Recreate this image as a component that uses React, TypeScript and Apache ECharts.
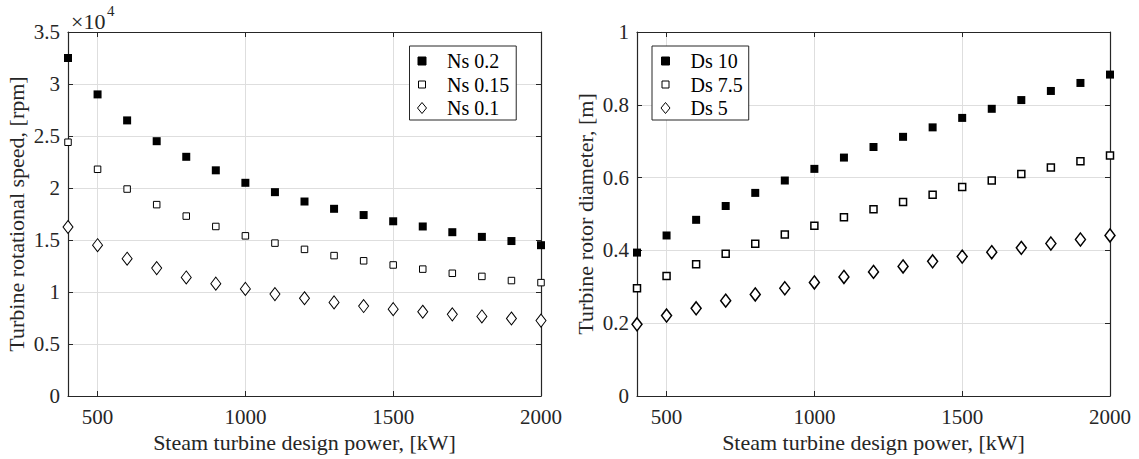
import React, { useEffect, useRef } from "react";
import * as echarts from "echarts";

const powerKW = [400, 500, 600, 700, 800, 900, 1000, 1100, 1200, 1300, 1400, 1500, 1600, 1700, 1800, 1900, 2000];
const xTicks = [500, 1000, 1500, 2000];

const ns02 = [32500, 29000, 26500, 24500, 23000, 21700, 20500, 19600, 18700, 18000, 17400, 16800, 16300, 15750, 15300, 14900, 14500];
const ns015 = [24400, 21800, 19900, 18400, 17300, 16300, 15400, 14700, 14100, 13500, 13000, 12600, 12200, 11800, 11500, 11100, 10900];
const ns01 = [16250, 14500, 13200, 12300, 11400, 10800, 10300, 9800, 9400, 9000, 8650, 8350, 8100, 7850, 7650, 7450, 7250];

const ds10 = [0.394, 0.441, 0.484, 0.522, 0.558, 0.592, 0.624, 0.655, 0.684, 0.712, 0.738, 0.764, 0.789, 0.813, 0.838, 0.86, 0.883];
const ds75 = [0.296, 0.33, 0.362, 0.391, 0.418, 0.444, 0.468, 0.491, 0.513, 0.533, 0.553, 0.574, 0.592, 0.61, 0.628, 0.645, 0.661];
const ds5 = [0.197, 0.221, 0.241, 0.262, 0.279, 0.296, 0.312, 0.327, 0.341, 0.356, 0.37, 0.383, 0.395, 0.407, 0.419, 0.43, 0.441];

const leftNames = ["Ns 0.2", "Ns 0.15", "Ns 0.1"];
const rightNames = ["Ds 10", "Ds 7.5", "Ds 5"];

const FONT = "'Liberation Serif', 'Times New Roman', serif";
const AX = "#262626";
const GRIDC = "#dedede";
const TICK_FS = 21;
const TITLE_FS = 22;

const ICON_FILLED = "path://M0,0M12,12M2,2L10,2L10,10L2,10Z";
const ICON_OPEN = "path://M0,0M12,12M2.5,2.5L9.5,2.5L9.5,9.5L2.5,9.5Z";
const ICON_DIAMOND = "path://M0,0M12,12M6,0.5L10.5,6L6,11.5L1.5,6Z";

function pairs(ys: number[]) {
  return powerKW.map((x, i) => [x, ys[i]]);
}

export default function App() {
  const ref = useRef<HTMLDivElement>(null);

  useEffect(() => {
    if (!ref.current) return;
    const chart = echarts.init(ref.current, null, { renderer: "svg" });

    const xBase = (gridIndex: number, pos: "bottom" | "top") => ({
      type: "value",
      gridIndex,
      position: pos,
      min: 400,
      max: 2000,
      name: pos === "bottom" ? "Steam turbine design power, [kW]" : "",
      nameLocation: "middle",
      nameGap: 34,
      nameTextStyle: { fontFamily: FONT, fontSize: TITLE_FS, color: AX },
      axisLine: { show: true, onZero: false, lineStyle: { color: AX, width: 1.2 } },
      axisTick: { show: true, inside: true, length: 5, customValues: xTicks, lineStyle: { color: AX, width: 1 } },
      axisLabel: {
        show: pos === "bottom",
        customValues: xTicks,
        margin: 10,
        fontFamily: FONT,
        fontSize: TICK_FS,
        color: AX,
        formatter: (v: number) => String(v),
      },
      splitLine: { show: pos === "bottom", lineStyle: { color: GRIDC, width: 1 } },
    });

    const yBase = (gridIndex: number, pos: "left" | "right", max: number, interval: number, name: string, fmt?: (v: number) => string) => ({
      type: "value",
      gridIndex,
      position: pos,
      min: 0,
      max,
      interval,
      name: pos === "left" ? name : "",
      nameLocation: "middle",
      nameGap: 41,
      nameTextStyle: { fontFamily: FONT, fontSize: TITLE_FS, color: AX },
      axisLine: { show: true, onZero: false, lineStyle: { color: AX, width: 1.2 } },
      axisTick: { show: true, inside: true, length: 5, lineStyle: { color: AX, width: 1 } },
      axisLabel: {
        show: pos === "left",
        margin: 8,
        fontFamily: FONT,
        fontSize: TICK_FS,
        color: AX,
        formatter: fmt,
      },
      splitLine: { show: pos === "left", lineStyle: { color: GRIDC, width: 1 } },
    });

    const legendBase = {
      orient: "vertical",
      top: 46,
      itemWidth: 40,
      itemHeight: 12,
      itemGap: 3.5,
      symbolKeepAspect: true,
      backgroundColor: "#ffffff",
      borderColor: AX,
      borderWidth: 1,
      borderRadius: 0,
      textStyle: { fontFamily: FONT, fontSize: 20, color: "#000" },
      itemStyle: { borderWidth: 1 },
      z: 10,
    };

    const option: any = {
      animation: false,
      backgroundColor: "#ffffff",
      grid: [
        { left: 68, top: 32, width: 473, height: 364, containLabel: false },
        { left: 637, top: 32, width: 473, height: 364, containLabel: false },
      ],
      xAxis: [xBase(0, "bottom"), xBase(0, "top"), xBase(1, "bottom"), xBase(1, "top")],
      yAxis: [
        yBase(0, "left", 35000, 5000, "Turbine rotational speed, [rpm]", (v: number) => String(v / 10000)),
        yBase(0, "right", 35000, 5000, ""),
        yBase(1, "left", 1, 0.2, "Turbine rotor diameter, [m]"),
        yBase(1, "right", 1, 0.2, ""),
      ],
      legend: [
        {
          ...legendBase,
          left: 409.5,
          padding: [5, 7, 2, 6],
          data: [
            { name: leftNames[0], icon: ICON_FILLED },
            { name: leftNames[1], icon: ICON_OPEN },
            { name: leftNames[2], icon: ICON_DIAMOND },
          ],
        },
        {
          ...legendBase,
          left: 652,
          padding: [5, 6, 2, 7],
          data: [
            { name: rightNames[0], icon: ICON_FILLED },
            { name: rightNames[1], icon: ICON_OPEN },
            { name: rightNames[2], icon: ICON_DIAMOND },
          ],
        },
      ],
      graphic: [
        {
          type: "text",
          left: 71,
          top: 10,
          style: { text: "×10", fontFamily: FONT, fontSize: 22, fill: AX },
        },
        {
          type: "text",
          left: 107,
          top: 3,
          style: { text: "4", fontFamily: FONT, fontSize: 15, fill: AX },
        },
      ],
      series: [
        {
          name: leftNames[0], type: "scatter", xAxisIndex: 0, yAxisIndex: 0,
          symbol: "rect", symbolSize: 8, data: pairs(ns02),
          itemStyle: { color: "#000", borderColor: "#000", borderWidth: 0, opacity: 1 },
        },
        {
          name: leftNames[1], type: "scatter", xAxisIndex: 0, yAxisIndex: 0,
          symbol: "rect", symbolSize: 6.5, data: pairs(ns015),
          itemStyle: { color: "#fff", borderColor: "#000", borderWidth: 1, opacity: 1 },
        },
        {
          name: leftNames[2], type: "scatter", xAxisIndex: 0, yAxisIndex: 0,
          symbol: "diamond", symbolSize: [10, 13], data: pairs(ns01),
          itemStyle: { color: "#fff", borderColor: "#000", borderWidth: 1, opacity: 1 },
        },
        {
          name: rightNames[0], type: "scatter", xAxisIndex: 2, yAxisIndex: 2,
          symbol: "rect", symbolSize: 8, data: pairs(ds10),
          itemStyle: { color: "#000", borderColor: "#000", borderWidth: 0, opacity: 1 },
        },
        {
          name: rightNames[1], type: "scatter", xAxisIndex: 2, yAxisIndex: 2,
          symbol: "rect", symbolSize: 7, data: pairs(ds75),
          itemStyle: { color: "#fff", borderColor: "#000", borderWidth: 1.5, opacity: 1 },
        },
        {
          name: rightNames[2], type: "scatter", xAxisIndex: 2, yAxisIndex: 2,
          symbol: "diamond", symbolSize: [10, 13], data: pairs(ds5),
          itemStyle: { color: "#fff", borderColor: "#000", borderWidth: 1.5, opacity: 1 },
        },
      ],
    };

    chart.setOption(option);
    return () => chart.dispose();
  }, []);

  return (
    <div
      ref={ref}
      style={{ position: "fixed", left: 0, top: 0, width: 1139, height: 459, background: "#fff" }}
    />
  );
}
